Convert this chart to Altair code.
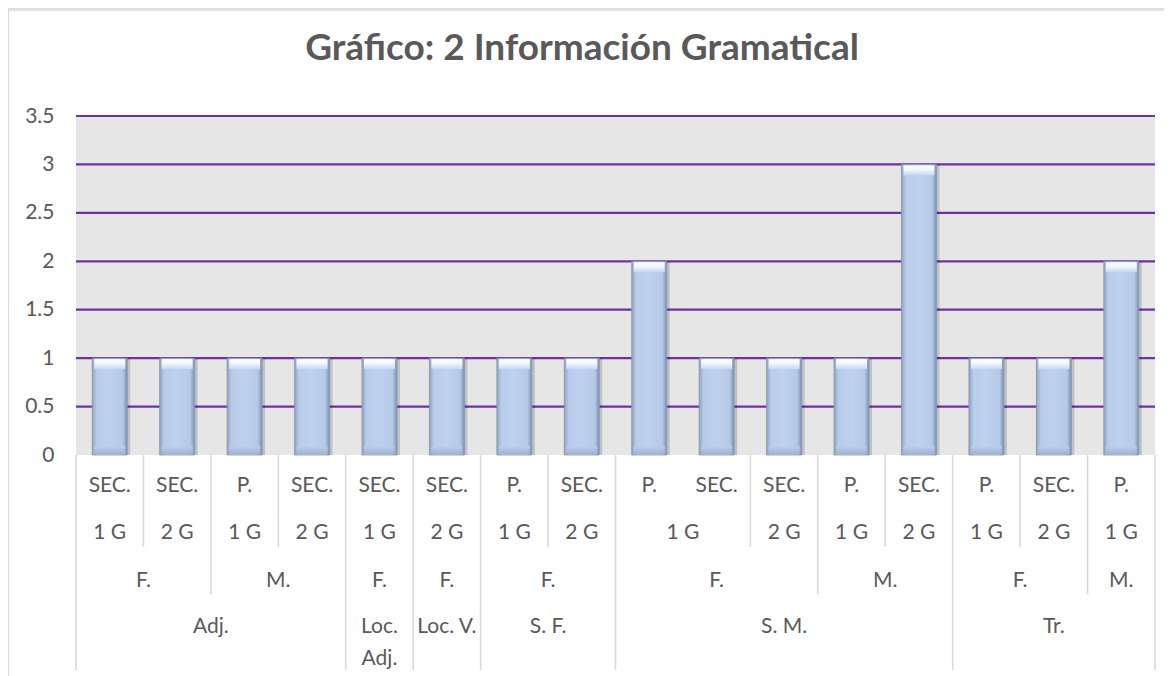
import altair as alt
import pandas as pd

# ---------------- data ----------------
title_text = "Gráfico: 2 Información Gramatical"
values = [1, 1, 1, 1, 1, 1, 1, 1, 2, 1, 1, 1, 3, 1, 1, 2]
level1 = ["SEC.", "SEC.", "P.", "SEC.", "SEC.", "SEC.", "P.", "SEC.",
          "P.", "SEC.", "SEC.", "P.", "SEC.", "P.", "SEC.", "P."]
level2 = ["1 G", "2 G", "1 G", "2 G", "1 G", "2 G", "1 G", "2 G",
          "1 G", "1 G", "2 G", "1 G", "2 G", "1 G", "2 G", "1 G"]
level3 = ["F.", "F.", "M.", "M.", "F.", "F.", "F.", "F.",
          "F.", "F.", "F.", "M.", "M.", "F.", "F.", "M."]
level4 = ["Adj.", "Adj.", "Adj.", "Adj.", "Loc.\nAdj.", "Loc. V.", "S. F.", "S. F.",
          "S. M.", "S. M.", "S. M.", "S. M.", "S. M.", "Tr.", "Tr.", "Tr."]
y_ticks = [0, 0.5, 1, 1.5, 2, 2.5, 3, 3.5]

# ---------------- layout (pixels inside the view) ----------------
W, H = 1156, 668
PLOT_LEFT, PLOT_RIGHT = 68, 1147
PLOT_TOP, PLOT_BOTTOM = 108, 447
ROW_Y = [478, 525, 573]           # middle of label rows 1-3
ROW4_TOP = 608                    # top of label row 4
DEPTH = {2: 539, 3: 586, 4: 662}  # bottom of separator lines

FONT = "Lato"
TXT = "#595959"

n = len(values)
levels = [level1, level2, level3, level4]
col_w = (PLOT_RIGHT - PLOT_LEFT) / n
unit = (PLOT_BOTTOM - PLOT_TOP) / max(y_ticks)
x_scale = alt.Scale(domain=[-PLOT_LEFT / col_w, (W - PLOT_LEFT) / col_w], nice=False, zero=False, padding=0)
y_scale = alt.Scale(domain=[-(H - PLOT_BOTTOM) / unit, max(y_ticks) + PLOT_TOP / unit], nice=False,
                    zero=False, padding=0)
y_axis = alt.Axis(values=y_ticks, format=".1~f", grid=False, domain=False, ticks=False, offset=-50,
                  labelPadding=4, labelFont=FONT, labelFontSize=21, labelColor=TXT, title=None)

bars = pd.DataFrame({"center": [i + 0.5 for i in range(n)], "value": values, "base": [0] * n})
bg = pd.DataFrame({"x0": [0], "x1": [n], "y0": [0], "y1": [max(y_ticks)]})
grid = pd.DataFrame({"tick": [t for t in y_ticks if t > 0], "x0": 0, "x1": n})


def spans(k):
    keys = [tuple(L[i] for L in levels[k:]) for i in range(n)]
    out, start = [], 0
    for i in range(1, n + 1):
        if i == n or keys[i] != keys[start]:
            out.append({"label": levels[k][start], "mid": (start + i) / 2})
            start = i
    return pd.DataFrame(out)


bounds = [{"pos": 0, "depth": 4}, {"pos": n, "depth": 4}]
for i in range(1, n):
    for k in (3, 2, 1):
        if tuple(L[i] for L in levels[k:]) != tuple(L[i - 1] for L in levels[k:]):
            bounds.append({"pos": i, "depth": k + 1})
            break
bounds = pd.DataFrame(bounds)

X = lambda f: alt.X(f, type="quantitative", scale=x_scale, axis=None)
Y = lambda f: alt.Y(f, type="quantitative", scale=y_scale, axis=y_axis)

layers = []
# chart frame (left and top edges; the rest lies outside the picture)
layers.append(alt.Chart(bg).mark_rule(color="#D9D9D9", strokeWidth=1.6).encode(
    x=alt.value(0), x2=alt.value(W), y=alt.value(2)))
layers.append(alt.Chart(bg).mark_rule(color="#D9D9D9", strokeWidth=1.6).encode(
    x=alt.value(0), y=alt.value(2), y2=alt.value(H)))

layers.append(alt.Chart(bg).mark_rect(color="#E6E6E6").encode(
    x=X("x0"), x2="x1", y=Y("y0"), y2="y1"))
layers.append(alt.Chart(grid).mark_rule(color="#7030A0", strokeWidth=2.2).encode(
    x=X("x0"), x2="x1", y=Y("tick")))

side_grad = alt.Gradient(gradient="linear", x1=0, x2=1, y1=0, y2=0, stops=[
    alt.GradientStop(color="#8DA1C1", offset=0),
    alt.GradientStop(color="#B9CDEA", offset=0.13),
    alt.GradientStop(color="#BED2F0", offset=0.5),
    alt.GradientStop(color="#B6C9E6", offset=0.87),
    alt.GradientStop(color="#7E91AE", offset=1)])
top_grad = alt.Gradient(gradient="linear", x1=0, x2=0, y1=0, y2=1, stops=[
    alt.GradientStop(color="#FFFFFF", offset=0),
    alt.GradientStop(color="#F2F7FF", offset=0.4),
    alt.GradientStop(color="#C4D7F2", offset=1)])
bot_grad = alt.Gradient(gradient="linear", x1=0, x2=0, y1=0, y2=1, stops=[
    alt.GradientStop(color="#BCD0EE", offset=0),
    alt.GradientStop(color="#9DB0CE", offset=1)])

layers.append(alt.Chart(bars).mark_bar(color="#000000", opacity=0.16, size=35, xOffset=3).encode(
    x=X("center"), y=Y("value"), y2="base"))
layers.append(alt.Chart(bars).mark_bar(color=side_grad, stroke="#8396B6", strokeWidth=0.8, size=35).encode(
    x=X("center"), y=Y("value"), y2="base"))
layers.append(alt.Chart(bars).mark_tick(orient="horizontal", color=top_grad, size=31, thickness=10,
                                        yOffset=6, opacity=1).encode(x=X("center"), y=Y("value")))
layers.append(alt.Chart(bars).mark_tick(orient="horizontal", color=bot_grad, size=31, thickness=8,
                                        yOffset=-5, opacity=0.9).encode(x=X("center"), y=Y("base")))

for d in (2, 3, 4):
    layers.append(alt.Chart(bounds).transform_filter(alt.datum.depth == d).mark_rule(
        color="#D9D9D9", strokeWidth=1.6).encode(
        x=X("pos"), y=alt.value(PLOT_BOTTOM), y2=alt.value(DEPTH[d])))

for k in range(3):
    layers.append(alt.Chart(spans(k)).mark_text(font=FONT, fontSize=21, color=TXT, baseline="middle",
                                                align="center").encode(
        x=X("mid"), y=alt.value(ROW_Y[k]), text="label:N"))
layers.append(alt.Chart(spans(3)).mark_text(font=FONT, fontSize=21, color=TXT, baseline="top",
                                            align="center", lineBreak="\n", lineHeight=32).encode(
    x=X("mid"), y=alt.value(ROW4_TOP), text="label:N"))

chart = alt.layer(*layers).properties(
    width=W, height=H,
    title=alt.TitleParams(title_text, font=FONT, fontSize=37, fontWeight="bold", color=TXT,
                          anchor="middle", offset=-38, baseline="middle", dx=-4, dy=40),
    autosize=alt.AutoSizeParams(type="none"),
    padding=0,
).configure_view(stroke=None).configure(background="white")

chart.save("out.html", embed_options={"renderer": "svg", "actions": False})
